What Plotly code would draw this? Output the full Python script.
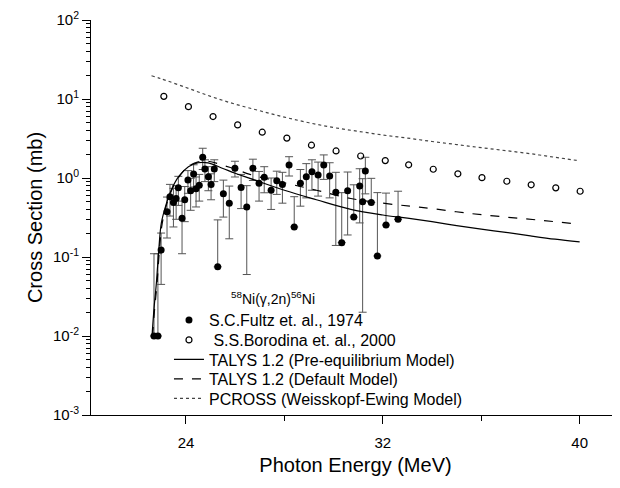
import plotly.graph_objects as go

# ------------------------
# Data
# ------------------------
fultz_e = [22.70, 22.86, 22.99, 23.23, 23.35, 23.49, 23.60, 23.69, 23.84, 23.95,
           24.08, 24.19, 24.31, 24.41, 24.54, 24.68, 24.77, 24.91, 25.02, 25.15,
           25.29, 25.52, 25.76, 25.99, 26.24, 26.47, 26.72, 26.97, 27.18, 27.46,
           27.69, 27.92, 28.19, 28.40, 28.65, 28.89, 29.12, 29.37, 29.60, 29.84,
           30.09, 30.33, 30.57, 30.82, 31.06, 31.18, 31.29, 31.53, 31.78, 32.13, 32.62]
fultz_cs = [0.010, 0.010, 0.123, 0.374, 0.58, 0.49, 0.55, 0.75, 0.31, 0.53,
            0.94, 0.69, 1.12, 0.73, 0.81, 1.83, 1.30, 1.04, 0.83, 1.30,
            0.075, 0.63, 0.48, 1.33, 0.76, 0.43, 1.33, 0.86, 1.02, 0.70,
            0.92, 0.83, 1.46, 0.24, 0.86, 1.04, 1.20, 1.09, 1.46, 1.06,
            0.66, 0.152, 0.69, 0.32, 0.79, 0.50, 1.23, 0.49, 0.103, 0.254, 0.30]
fultz_err = [0.10, 0.10, 0.078, 0.20, 0.25, 0.25, 0.25, 0.30, 0.20, 0.25,
             0.30, 0.30, 0.35, 0.30, 0.30, 0.55, 0.40, 0.35, 0.30, 0.40,
             0.22, 0.31, 0.31, 0.30, 0.35, 0.37, 0.40, 0.35, 0.37, 0.30,
             0.30, 0.35, 0.40, 0.34, 0.42, 0.48, 0.50, 0.50, 0.50, 0.50,
             0.52, 0.50, 0.50, 0.50, 0.52, 0.48, 0.60, 0.50, 0.55, 0.39, 0.38]

borodina_e = [23.1, 24.1, 25.1, 26.1, 27.1, 28.1, 29.1, 30.1, 31.1, 32.1,
              33.05, 34.05, 35.05, 36.03, 37.04, 38.03, 39.03, 40.02]
borodina_cs = [10.8, 8.0, 6.0, 4.7, 3.8, 3.2, 2.6, 2.2, 1.9, 1.66,
               1.47, 1.29, 1.13, 1.01, 0.91, 0.82, 0.75, 0.68]

preeq_e = [22.62, 22.7, 22.8, 22.9, 23.0, 23.2, 23.4, 23.7, 24.1, 24.5, 24.9, 25.5,
           26.0, 26.6, 28.0, 29.3, 30.7, 32.0, 33.0, 34.0, 35.0, 36.0, 37.0, 38.0, 39.0, 40.0]
preeq_cs = [0.010, 0.022, 0.048, 0.13, 0.27, 0.47, 0.70, 1.04, 1.39, 1.56, 1.55, 1.32,
            1.15, 0.99, 0.70, 0.53, 0.40, 0.34, 0.31, 0.28, 0.25, 0.225, 0.205, 0.185, 0.168, 0.155]

default_e = [22.64, 22.72, 22.82, 22.92, 23.02, 23.2, 23.4, 23.7, 24.1, 24.5, 24.9, 25.5,
             26.0, 26.6, 28.0, 29.3, 30.7, 32.0, 33.1, 34.0, 35.5, 37.0, 38.5, 40.0]
default_cs = [0.010, 0.021, 0.045, 0.12, 0.25, 0.45, 0.68, 1.02, 1.40, 1.60, 1.63, 1.45,
              1.30, 1.11, 0.87, 0.70, 0.55, 0.48, 0.44, 0.41, 0.357, 0.32, 0.29, 0.26]

pcross_e = [22.6, 23, 24, 25, 26, 27, 28, 29, 30, 31, 32, 33, 34, 35, 36, 37, 38, 39, 40]
pcross_cs = [19.7, 18.0, 14.0, 10.8, 8.6, 7.1, 5.9, 5.0, 4.35, 3.9, 3.5, 3.2, 2.9,
             2.65, 2.42, 2.22, 2.03, 1.83, 1.65]

y_tickvals = [1e-3, 1e-2, 1e-1, 1, 10, 100]
y_ticktext = ["10<sup>-3</sup>", "10<sup>-2</sup>", "10<sup>-1</sup>",
              "10<sup>0</sup>", "10<sup>1</sup>", "10<sup>2</sup>"]
x_tickvals = [24, 32, 40]

# lower error bars that would cross zero are not drawn on the log scale
fultz_err_minus = [e if v - e > 0 else 0 for v, e in zip(fultz_cs, fultz_err)]

FONT = "Liberation Sans, Arial, sans-serif"

# ------------------------
# Figure
# ------------------------
fig = go.Figure()

fig.add_trace(go.Scatter(
    x=fultz_e, y=fultz_cs, mode="markers",
    name="S.C.Fultz et. al., 1974", legend="legend",
    marker=dict(symbol="circle", size=7, color="black"),
    error_y=dict(type="data", array=fultz_err, arrayminus=fultz_err_minus,
                 symmetric=False, color="#555555", thickness=1, width=4),
))
fig.add_trace(go.Scatter(
    x=borodina_e, y=borodina_cs, mode="markers",
    name=" S.S.Borodina et. al., 2000", legend="legend2",
    marker=dict(symbol="circle-open", size=6, color="black", line=dict(width=1.2)),
))
fig.add_trace(go.Scatter(
    x=preeq_e, y=preeq_cs, mode="lines",
    name="TALYS 1.2 (Pre-equilibrium Model)", legend="legend3",
    line=dict(color="black", width=1.2, shape="spline"),
))
fig.add_trace(go.Scatter(
    x=default_e, y=default_cs, mode="lines",
    name="TALYS 1.2 (Default Model)", legend="legend4",
    line=dict(color="black", width=1.2, dash="dash", shape="spline"),
))
fig.add_trace(go.Scatter(
    x=pcross_e, y=pcross_cs, mode="lines",
    name="PCROSS (Weisskopf-Ewing Model)", legend="legend5",
    line=dict(color="#444444", width=1.2, dash="dot", shape="spline"),
))

fig.add_annotation(
    xref="paper", yref="paper", x=0.261, y=0.296,
    xanchor="left", yanchor="middle", showarrow=False,
    text="<sup>58</sup>Ni(γ,2n)<sup>56</sup>Ni",
    font=dict(family=FONT, size=14, color="black"),
)

# one legend per row so the row spacing can follow the original
leg_x = 0.1474
row_y = [320, 340, 359.5, 379, 398.5]  # row centres in px from the top
legends = {}
for i, yc in enumerate(row_y):
    key = "legend" if i == 0 else "legend%d" % (i + 1)
    legends[key] = dict(
        x=leg_x, y=(415 - yc) / 395, xanchor="left", yanchor="middle",
        bgcolor="rgba(0,0,0,0)", font=dict(family=FONT, size=16, color="black"),
        itemwidth=30,
    )

# the page body keeps its default 8px margin, so the figure is 8px smaller
fig.update_layout(
    width=612, height=480,
    margin=dict(l=83, r=0, t=12, b=73),
    paper_bgcolor="white", plot_bgcolor="white",
    font=dict(family=FONT, color="black"),
    showlegend=True,
    **legends,
)

fig.update_xaxes(
    range=[20.14, 41.64], showgrid=False, zeroline=False, automargin=False,
    showline=True, linecolor="black", linewidth=1,
    tickmode="array", tickvals=x_tickvals,
    ticks="outside", ticklen=8, tickcolor="black",
    tickfont=dict(family=FONT, size=15),
    ticklabelstandoff=6,
    minor=dict(ticks="outside", ticklen=5, tick0=20, dtick=4, tickcolor="black", showgrid=False),
    title=dict(text="Photon Energy (MeV)", font=dict(family=FONT, size=20), standoff=7),
)

fig.update_yaxes(
    type="log", range=[-3, 2], showgrid=False, zeroline=False, automargin=False,
    showline=True, linecolor="black", linewidth=1,
    tickmode="array", tickvals=y_tickvals, ticktext=y_ticktext,
    ticks="outside", ticklen=8, tickcolor="black",
    tickfont=dict(family=FONT, size=15),
    minor=dict(ticks="outside", ticklen=4, dtick="D1", tickcolor="black", showgrid=False),
    title=dict(text="Cross Section (mb)", font=dict(family=FONT, size=20), standoff=4),
)

fig.write_html("out.html")
